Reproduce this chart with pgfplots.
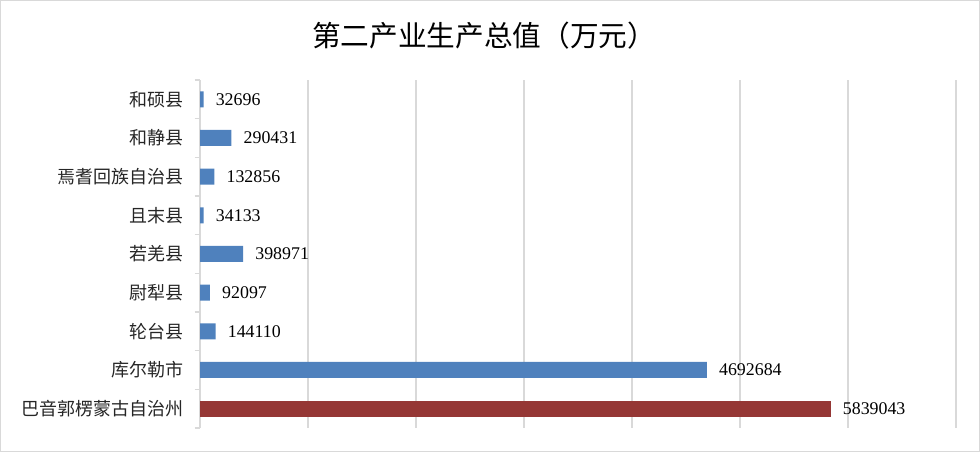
\documentclass[border=0pt]{standalone}
\usepackage{fontspec}
\setmainfont{Liberation Serif}
\newfontfamily\cjk{Noto Sans CJK SC}
\usepackage{pgfplots}
\pgfplotsset{compat=1.18}
\definecolor{barblue}{HTML}{4F81BD}
\definecolor{barred}{HTML}{953735}
\definecolor{gridgray}{HTML}{D9D9D9}

\begin{document}
\begin{tikzpicture}
  % frame of the whole picture, 980x452 px at 0.75pt per px
  \draw[gridgray, line width=0.8pt] (0.4pt,0.4pt) rectangle (734.6pt,338.6pt);
  \node[font=\cjk\fontsize{21.5}{24}\selectfont] at (363pt,312.5pt) {第二产业生产总值（万元）};
  \begin{axis}[
    at={(150pt,18pt)}, anchor=south west,
    scale only axis, width=567pt, height=261pt,
    xbar, bar width=12pt,
    xmin=0, xmax=7000000,
    ymin=-0.5, ymax=8.5,
    scaled x ticks=false,
    xtick={1000000,2000000,3000000,4000000,5000000,6000000,7000000},
    xticklabels={},
    xmajorgrids, major grid style={gridgray, line width=0.8pt},
    ytick={0,1,2,3,4,5,6,7,8},
    yticklabels={巴音郭楞蒙古自治州,库尔勒市,轮台县,尉犁县,若羌县,且末县,焉耆回族自治县,和静县,和硕县},
    minor ytick={-0.5,0.5,1.5,2.5,3.5,4.5,5.5,6.5,7.5,8.5},
    major tick length=0pt, minor tick length=4pt,
    tick align=outside,
    tick style={gridgray, line width=0.8pt},
    yticklabel style={font=\cjk\fontsize{13.5}{16}\selectfont, inner sep=0pt, xshift=-12.5pt, text=black!85},
    axis x line*=bottom, axis y line*=left,
    x axis line style={draw=none},
    y axis line style={gridgray, line width=0.8pt},
    point meta=explicit symbolic,
    nodes near coords,
    every node near coord/.append style={font=\fontsize{13.4}{16}\selectfont, anchor=west, inner sep=0pt, xshift=9pt, text=black},
  ]
    \addplot[fill=barblue, draw=none, bar shift=0pt] coordinates {
      (4692684,1) [4692684]
      (144110,2) [144110]
      (92097,3) [92097]
      (398971,4) [398971]
      (34133,5) [34133]
      (132856,6) [132856]
      (290431,7) [290431]
      (32696,8) [32696]
    };
    \addplot[fill=barred, draw=none, bar shift=0pt] coordinates {
      (5839043,0) [5839043]
    };
  \end{axis}
\end{tikzpicture}
\end{document}
